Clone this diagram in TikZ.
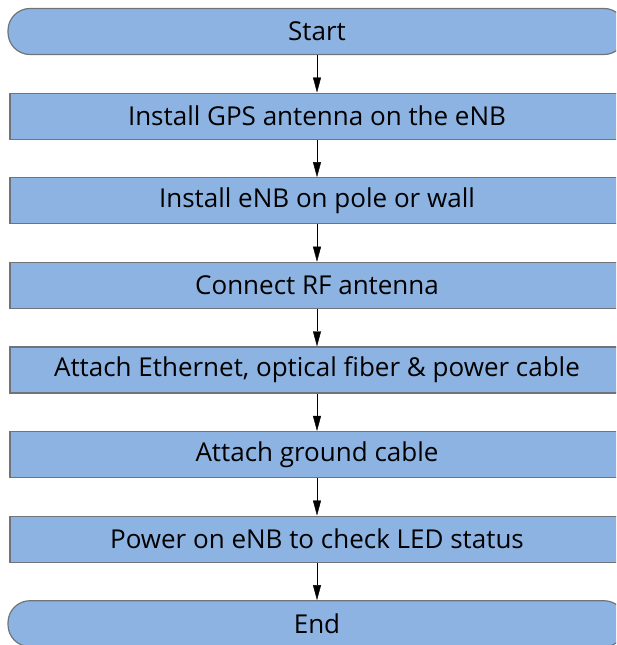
\documentclass[tikz,border=0pt]{standalone}
\usepackage{fontspec}
\setmainfont{Open Sans}
\usetikzlibrary{positioning,arrows.meta}

\definecolor{stepfill}{HTML}{8DB3E2}
\definecolor{stepline}{HTML}{707478}

\tikzset{
    stepbox/.style={draw=stepline, line width=1.2pt, fill=stepfill, minimum width=614pt,
        minimum height=46pt, inner sep=0pt, font=\fontsize{26}{30}\selectfont},
    termbox/.style={stepbox, minimum width=618pt, rounded corners=22pt},
    flow/.style={-{Triangle[width=8pt,length=15pt]}, thin}
}

\begin{document}
\begin{tikzpicture}
    % Page frame
    \useasboundingbox (0,0) rectangle (616pt,-645pt);
    \clip (0,0) rectangle (616pt,-645pt);

    % Terminal and step boxes
    \node[termbox] (start) at (317pt,-31.5pt) {Start};
    \node[stepbox, below=37.4pt of start] (gps) {Install GPS antenna on the eNB};
    \node[stepbox, below=37.4pt of gps] (mount) {Install eNB on pole or wall};
    \node[stepbox, below=37.4pt of mount] (rf) {Connect RF antenna};
    \node[stepbox, below=37.4pt of rf] (cables) {Attach Ethernet, optical fiber \& power cable};
    \node[stepbox, below=37.4pt of cables] (ground) {Attach ground cable};
    \node[stepbox, below=37.4pt of ground] (power) {Power on eNB to check LED status};
    \node[termbox, below=37.4pt of power] (end) {End};

    % Arrows
    \foreach \a/\b in {start/gps, gps/mount, mount/rf, rf/cables,
        cables/ground, ground/power, power/end} {
        \draw[flow] (\a) -- (\b);
    }
\end{tikzpicture}
\end{document}
